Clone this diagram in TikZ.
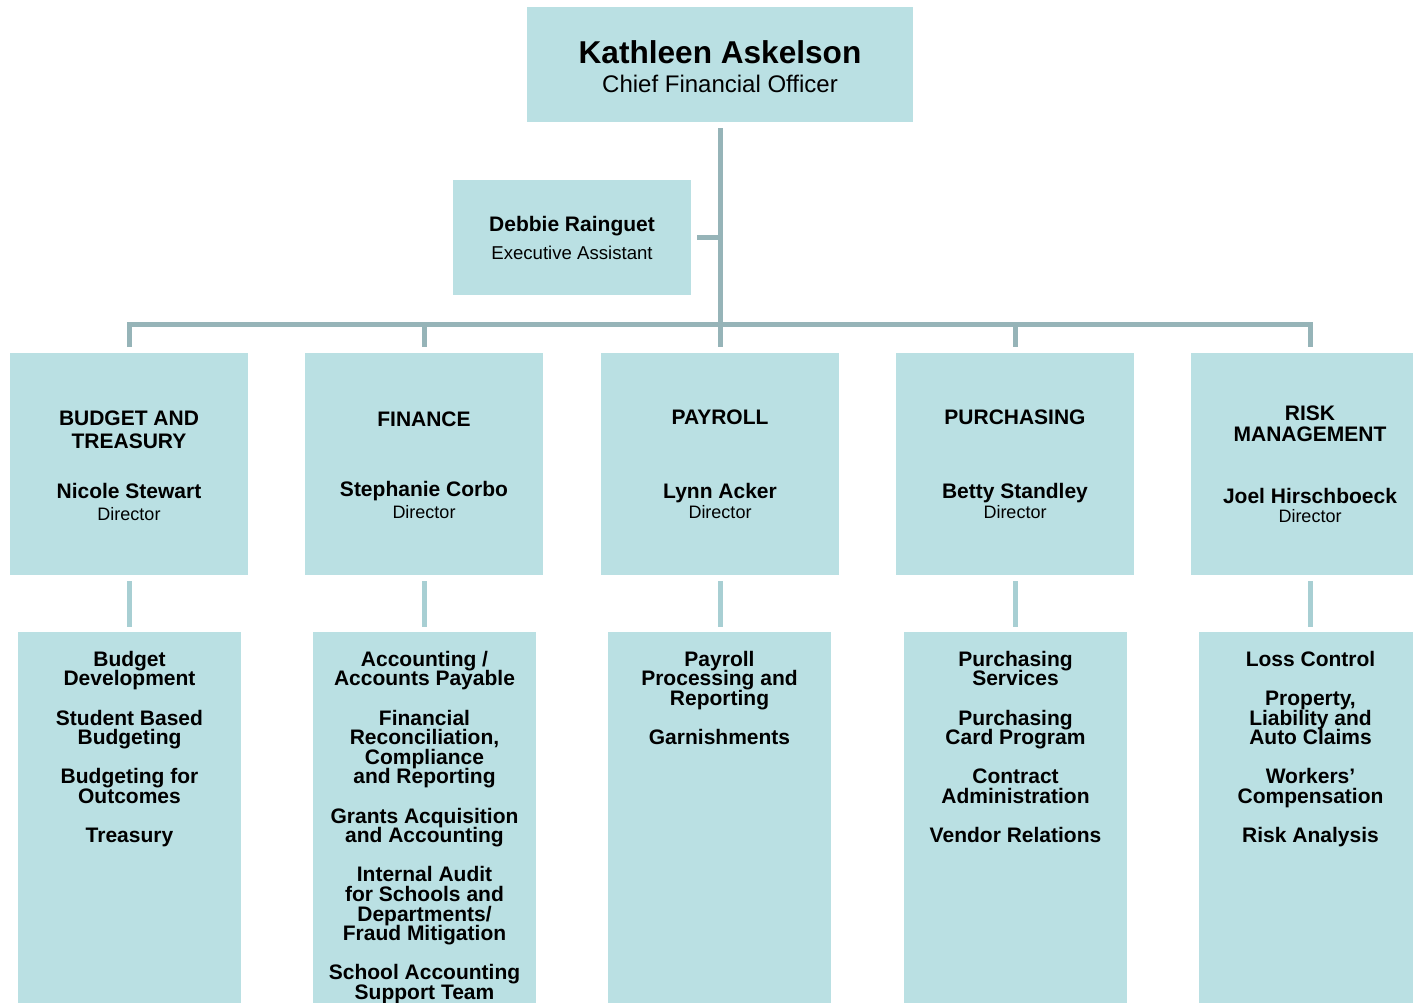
\documentclass[tikz,border=0pt]{standalone}
\usepackage{fontspec}
\setmainfont{Liberation Sans}
\definecolor{boxfill}{HTML}{BAE0E3}
\definecolor{linemain}{HTML}{96B4B8}
\definecolor{linelight}{HTML}{A8CFD3}
\setlength{\lineskiplimit}{-50pt}
\begin{document}
\begin{tikzpicture}[x=1pt,y=-1pt,
  box/.style={fill=boxfill, draw=none, inner sep=0pt, outer sep=0pt, anchor=north west},
  deptbox/.style={box, minimum width=238pt, minimum height=222pt},
  listbox/.style={box, minimum width=223pt, minimum height=420pt},
  mainline/.style={draw=linemain, line width=5pt},
  lightline/.style={draw=linelight, line width=5pt},
  txt/.style={inner sep=0pt, outer sep=0pt, align=center, text=black},
  bigname/.style={txt, anchor=base, font=\bfseries\fontsize{31.6}{34}\selectfont},
  bigrole/.style={txt, anchor=base, font=\fontsize{24}{26}\selectfont},
  depttitle/.style={txt, font=\bfseries\fontsize{21}{23}\selectfont},
  deptname/.style={txt, anchor=base, font=\bfseries\fontsize{21}{23}\selectfont},
  deptrole/.style={txt, anchor=base, font=\fontsize{18}{19}\selectfont},
  listtext/.style={txt, anchor=north, font=\bfseries\fontsize{21}{19.6}\selectfont},
]
\useasboundingbox (0,0) rectangle (1413,1002);
\clip (0,0) rectangle (1413,1002);

% boxes
\node[box, minimum width=386pt, minimum height=115pt] (cfo) at (527,7) {};
\node[box, minimum width=238pt, minimum height=115pt] (asst) at (453,180) {};
\node[deptbox] (budget) at (10,353) {};
\node[deptbox] (finance) at (305,353) {};
\node[deptbox] (payroll) at (601,353) {};
\node[deptbox] (purch) at (896,353) {};
\node[deptbox] (risk) at (1191,353) {};
\node[listbox] (budgetL) at (18,632) {};
\node[listbox] (financeL) at (313,632) {};
\node[listbox] (payrollL) at (608,632) {};
\node[listbox] (purchL) at (904,632) {};
\node[listbox] (riskL) at (1199,632) {};

% connectors
\coordinate (busy) at (0,324);
\draw[mainline, shorten <=6pt, shorten >=6pt] (cfo.south) -- (payroll.north);
\draw[mainline, shorten <=6pt] (asst.east) -- (asst.east -| cfo.south);
\draw[mainline, shorten <=6pt, shorten >=6pt] (budget.north) -- (budget.north |- busy) -- (risk.north |- busy) -- (risk.north);
\draw[mainline, shorten >=6pt] (finance.north |- busy) -- (finance.north);
\draw[mainline, shorten >=6pt] (purch.north |- busy) -- (purch.north);
\draw[lightline, shorten <=6pt, shorten >=5pt] (budget.south) -- (budget.south |- budgetL.north);
\draw[lightline, shorten <=6pt, shorten >=5pt] (finance.south) -- (finance.south |- financeL.north);
\draw[lightline, shorten <=6pt, shorten >=5pt] (payroll.south) -- (payroll.south |- payrollL.north);
\draw[lightline, shorten <=6pt, shorten >=5pt] (purch.south) -- (purch.south |- purchL.north);
\draw[lightline, shorten <=6pt, shorten >=5pt] (risk.south) -- (risk.south |- riskL.north);

% top texts
\node[bigname] (cfoN) at (720,63) {Kathleen Askelson};
\node[bigrole] (cfoR) at (720,92.5) {Chief Financial Officer};
\node[deptname] (asstN) at (572,231) {Debbie Rainguet};
\node[txt, anchor=base, font=\fontsize{18.6}{21}\selectfont] (asstR) at (572,259.3) {Executive Assistant};

% department texts
\node[depttitle] (budgetT) at (129,429.3) {BUDGET AND\\TREASURY};
\node[deptname] (budgetN) at (129,498) {Nicole Stewart};
\node[deptrole] (budgetR) at (129,520) {Director};

\node[depttitle, anchor=base] (financeT) at (424,426) {FINANCE};
\node[deptname] (financeN) at (424,496) {Stephanie Corbo};
\node[deptrole] (financeR) at (424,518) {Director};

\node[depttitle, anchor=base] (payrollT) at (720,424) {PAYROLL};
\node[deptname] (payrollN) at (720,498) {Lynn Acker};
\node[deptrole] (payrollR) at (720,518) {Director};

\node[depttitle, anchor=base] (purchT) at (1015,424) {PURCHASING};
\node[deptname] (purchN) at (1015,498) {Betty Standley};
\node[deptrole] (purchR) at (1015,518) {Director};

\node[depttitle, font=\bfseries\fontsize{21}{21.7}\selectfont] (riskT) at (1310,423.7) {RISK\\MANAGEMENT};
\node[deptname] (riskN) at (1310,503) {Joel Hirschboeck};
\node[deptrole] (riskR) at (1310,522.7) {Director};

% list texts
\node[listtext] (budgetX) at (129.5,651) {Budget\\Development\\[19.6pt]Student Based\\Budgeting\\[19.6pt]Budgeting for\\Outcomes\\[19.6pt]Treasury};
\node[listtext] (financeX) at (424.5,651) {Accounting /\\Accounts Payable\\[19.6pt]Financial\\Reconciliation,\\Compliance\\and Reporting\\[19.6pt]Grants Acquisition\\and Accounting\\[19.6pt]Internal Audit\\for Schools and\\Departments/\\Fraud Mitigation\\[19.6pt]School Accounting\\Support Team};
\node[listtext] (payrollX) at (719.5,651) {Payroll\\Processing and\\Reporting\\[19.6pt]Garnishments};
\node[listtext] (purchX) at (1015.5,651) {Purchasing\\Services\\[19.6pt]Purchasing\\Card Program\\[19.6pt]Contract\\Administration\\[19.6pt]Vendor Relations};
\node[listtext] (riskX) at (1310.5,651) {Loss Control\\[19.6pt]Property,\\Liability and\\Auto Claims\\[19.6pt]Workers’\\Compensation\\[19.6pt]Risk Analysis};
\end{tikzpicture}
\end{document}
